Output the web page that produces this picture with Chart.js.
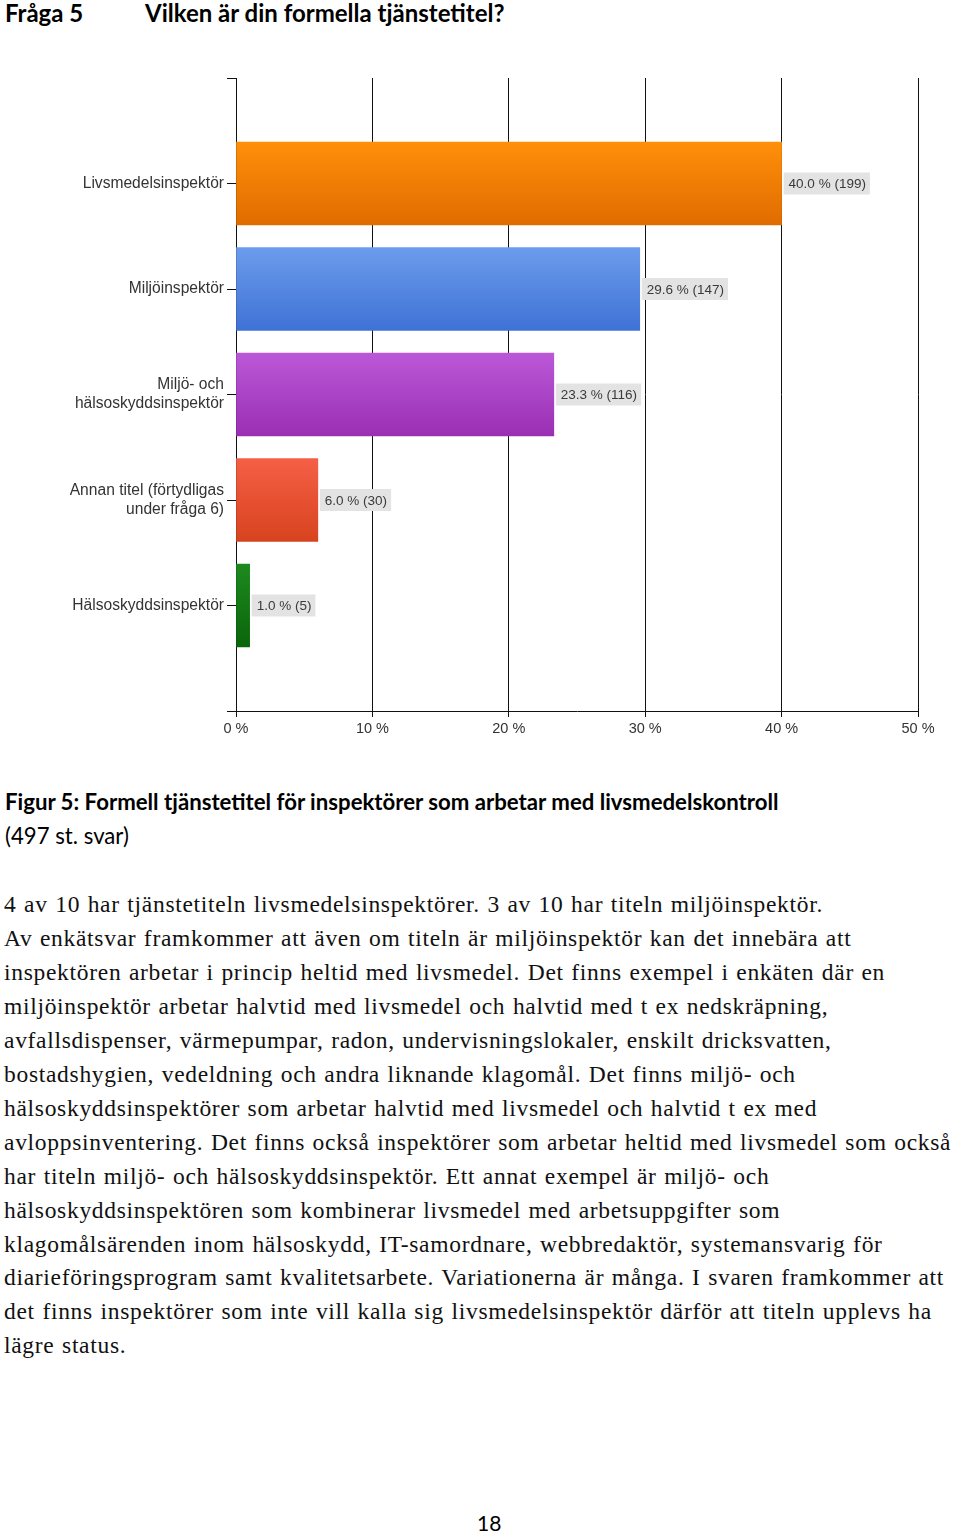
<!DOCTYPE html>
<html>
<head>
<meta charset="utf-8">
<script src="https://cdn.jsdelivr.net/npm/chart.js@4/dist/chart.umd.min.js"></script>
<style>
  html, body { margin:0; padding:0; background:#fff; }
  body { width:960px; height:1534px; position:relative; overflow:hidden; }
  .t { position:absolute; white-space:nowrap; color:#000; }
  .h { font-family:"Lato","Open Sans",sans-serif; font-weight:700; font-size:24px; top:-2px; }
  .cap { font-family:"Lato","Open Sans",sans-serif; font-size:22.2px; left:5px; }
  .body { font-family:"Liberation Serif","DejaVu Serif",serif; font-size:23.5px; letter-spacing:0.7px; word-spacing:1px; left:4px; color:#111; }
  #wrap { position:absolute; left:0; top:40px; width:960px; height:720px; }
</style>
</head>
<body>
<div class="t h" style="left:5px;">Fråga 5</div>
<div class="t h" style="left:145px;">Vilken är din formella tjänstetitel?</div>

<div id="wrap"><canvas id="c"></canvas></div>

<div class="t cap" style="top:788px;font-weight:700;">Figur 5: Formell tjänstetitel för inspektörer som arbetar med livsmedelskontroll</div>
<div class="t cap" style="top:822px;">(497 st. svar)</div>

<div id="bodytext"></div>

<div class="t cap" style="top:1510px;left:477px;font-size:21px;">18</div>

<script>
// ---- data ----
const categories = [
  "Livsmedelsinspektör",
  "Miljöinspektör",
  ["Miljö- och", "hälsoskyddsinspektör"],
  ["Annan titel (förtydligas", "under fråga 6)"],
  "Hälsoskyddsinspektör"
];
const percentValues = [40.0, 29.6, 23.3, 6.0, 1.0];
const answerCounts = [199, 147, 116, 30, 5];
const xTicks = [0, 10, 20, 30, 40, 50];
const barColorsTop = ["#ff8f0a", "#6b9cec", "#bb58d8", "#f55f45", "#1d8a1d"];
const barColorsBottom = ["#e06c00", "#3f72d6", "#9a2fb3", "#d8431f", "#0b650b"];

const bodyLines = [
  "4 av 10 har tjänstetiteln livsmedelsinspektörer. 3 av 10 har titeln miljöinspektör.",
  "Av enkätsvar framkommer att även om titeln är miljöinspektör kan det innebära att",
  "inspektören arbetar i princip heltid med livsmedel. Det finns exempel i enkäten där en",
  "miljöinspektör arbetar halvtid med livsmedel och halvtid med t ex nedskräpning,",
  "avfallsdispenser, värmepumpar, radon, undervisningslokaler, enskilt dricksvatten,",
  "bostadshygien, vedeldning och andra liknande klagomål. Det finns miljö- och",
  "hälsoskyddsinspektörer som arbetar halvtid med livsmedel och halvtid t ex med",
  "avloppsinventering. Det finns också inspektörer som arbetar heltid med livsmedel som också",
  "har titeln miljö- och hälsoskyddsinspektör. Ett annat exempel är miljö- och",
  "hälsoskyddsinspektören som kombinerar livsmedel med arbetsuppgifter som",
  "klagomålsärenden inom hälsoskydd, IT-samordnare, webbredaktör, systemansvarig för",
  "diarieföringsprogram samt kvalitetsarbete. Variationerna är många. I svaren framkommer att",
  "det finns inspektörer som inte vill kalla sig livsmedelsinspektör därför att titeln upplevs ha",
  "lägre status."
];

const bt = document.getElementById('bodytext');
bodyLines.forEach((l, i) => {
  const d = document.createElement('div');
  d.className = 't body';
  d.style.top = (891 + i * 33.95) + 'px';
  d.textContent = l;
  bt.appendChild(d);
});

// padded labels so category positions sit on grid boundaries
const labels = [""].concat(categories, [""]);
const dataPadded = [null].concat(percentValues, [null]);

function gradFor(ctx, i) {
  const chart = ctx.chart;
  if (!chart.chartArea || !chart.scales.y || i < 1 || i > categories.length) return barColorsTop[0];
  const k = i - 1;
  const yc = chart.scales.y.getPixelForValue(i);
  const g = chart.ctx.createLinearGradient(0, yc - 41, 0, yc + 41);
  g.addColorStop(0, barColorsTop[k]);
  g.addColorStop(1, barColorsBottom[k]);
  return g;
}

const labelPlugin = {
  id: 'valLabels',
  afterDatasetsDraw(chart) {
    const meta = chart.getDatasetMeta(0);
    const c = chart.ctx;
    c.save();
    c.font = '13.5px "Liberation Sans", Arial, sans-serif';
    c.textBaseline = 'middle';
    meta.data.forEach((el, i) => {
      if (i < 1 || i > categories.length) return;
      const k = i - 1;
      const txt = percentValues[k].toFixed(1) + ' % (' + answerCounts[k] + ')';
      const w = c.measureText(txt).width;
      const x = el.x + 2;
      const y = el.y;
      c.fillStyle = '#e3e3e3';
      c.fillRect(x, y - 11, w + 9, 22);
      c.fillStyle = '#3a3a3a';
      c.fillText(txt, x + 5, y + 1);
    });
    c.restore();
  }
};

new Chart(document.getElementById('c'), {
  type: 'bar',
  data: {
    labels: labels,
    datasets: [{
      data: dataPadded,
      backgroundColor: (ctx) => gradFor(ctx, ctx.dataIndex),
      borderWidth: 0,
      barThickness: 83
    }]
  },
  options: {
    indexAxis: 'y',
    responsive: true,
    maintainAspectRatio: false,
    animation: false,
    layout: { padding: { top: 38, right: 42, left: 0, bottom: 0 } },
    plugins: { legend: { display: false }, tooltip: { enabled: false } },
    scales: {
      x: {
        type: 'linear',
        min: 0, max: 50,
        afterBuildTicks: (s) => { s.ticks = xTicks.map(v => ({ value: v })); },
        afterFit: (s) => { s.height = 49; },
        grid: { color: '#111', lineWidth: 1, tickLength: 6, drawTicks: true },
        border: { color: '#111', width: 1 },
        ticks: {
          callback: (v) => v + ' %',
          color: '#333',
          font: { family: '"Liberation Sans", Arial, sans-serif', size: 14.5 },
          padding: 3
        }
      },
      y: {
        type: 'category',
        offset: false,
        afterFit: (s) => { s.width = 236; },
        grid: { offset: false, drawOnChartArea: false, drawTicks: true, tickLength: 9, color: '#111' },
        border: { color: '#111', width: 1 },
        ticks: {
          color: '#333',
          autoSkip: false,
          font: { family: '"Liberation Sans", Arial, sans-serif', size: 15.6, lineHeight: 1.22 },
          padding: 3
        }
      }
    }
  },
  plugins: [labelPlugin]
});
</script>
</body>
</html>
